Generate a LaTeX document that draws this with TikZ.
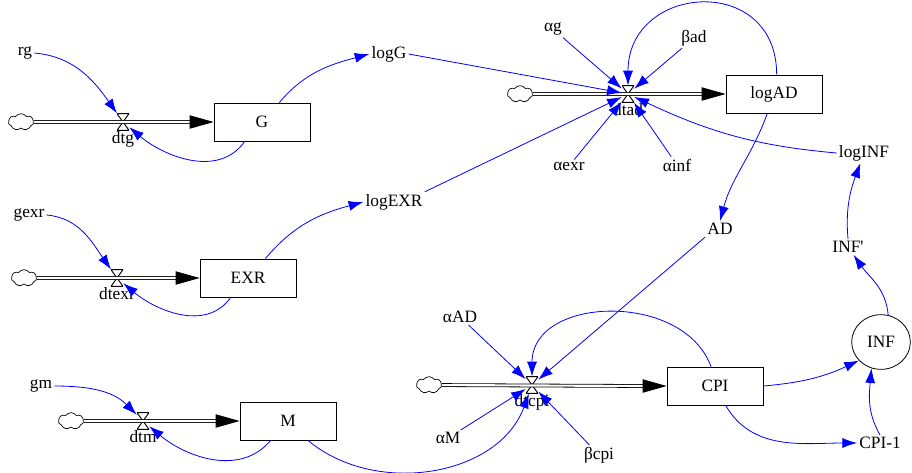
\documentclass[tikz,border=0pt]{standalone}
\usepackage{fontspec}
\setmainfont{Liberation Serif}
\usetikzlibrary{arrows.meta,positioning,shapes.geometric,shapes.symbols}

\tikzset{
  stock/.style={draw, line width=0.6pt, minimum width=72pt, minimum height=28.5pt, inner sep=0pt},
  aux/.style={inner sep=1.5pt},
  conv/.style={draw, ellipse, line width=0.6pt, minimum width=44pt, minimum height=41pt, inner sep=0pt},
  valve/.style={minimum width=9pt, minimum height=12.5pt, inner sep=0pt,
    path picture={\draw[line width=0.7pt] (path picture bounding box.north west) -- (path picture bounding box.south east) -- (path picture bounding box.south west) -- (path picture bounding box.north east) -- cycle;}},
  vlabel/.style={inner sep=0.5pt},
  src/.style={cloud, draw, cloud puffs=7, cloud puff arc=110, aspect=1.6, minimum width=19pt, minimum height=12.5pt, inner sep=0pt, line width=0.5pt},
  pipe/.style={double, double distance=1.6pt, line width=0.6pt},
  pipetip/.style={-{Triangle[length=18pt,width=10pt]}, line width=0.6pt},
  link/.style={draw=blue, line width=0.6pt, -{Latex[length=11pt,width=7.5pt]}, blue},
}

\begin{document}
\begin{tikzpicture}[x=0.75pt,y=-0.75pt,font=\fontsize{13}{15}\selectfont]
\useasboundingbox (0,0) rectangle (912,472);

%Stocks
\node[stock] (G) at (262,122) {G};
\node[stock] (EXR) at (248,278) {EXR};
\node[stock] (M) at (288,421) {M};
\node[stock] (logAD) at (774,94) {logAD};
\node[stock] (CPI) at (715,386) {CPI};
\node[conv] (INF) at (881,342) {INF};

%Sources
\node[src] (cldg) at (21,122) {};
\node[src] (cldexr) at (24,278) {};
\node[src] (cldm) at (71,421) {};
\node[src] (cldad) at (520,94) {};
\node[src] (cldcpi) at (429,385) {};

%Valves
\node[valve] (dtg) at (123,122) {};
\node[valve] (dtexr) at (117,278) {};
\node[valve] (dtm) at (143,421) {};
\node[valve] (dtad) at (628,94) {};
\node[valve] (dtcpi) at (532,385) {};
\node[vlabel, below=0pt of dtg] (dtgtxt) {dtg};
\node[vlabel, below=0pt of dtexr] (dtexrtxt) {dtexr};
\node[vlabel, below=0pt of dtm] (dtmtxt) {dtm};
\node[vlabel, below=0pt of dtad] (dtadtxt) {dtad};
\node[vlabel, below=0pt of dtcpi] (dtcpitxt) {dtcpi};

% Text Node
\node[aux] (rg) at (25,53) {rg};
\node[aux] (gexr) at (29,215) {gexr};
\node[aux] (gm) at (41,386) {gm};
\node[aux] (logG) at (389,54) {logG};
\node[aux] (logEXR) at (394,202) {logEXR};
\node[aux] (ag) at (553,29) {αg};
\node[aux] (bad) at (694,38) {βad};
\node[aux] (aexr) at (569,166) {αexr};
\node[aux] (ainf) at (677,165) {αinf};
\node[aux] (logINF) at (864,153) {logINF};
\node[aux] (AD) at (720,229) {AD};
\node[aux] (INFp) at (848,247) {INF\textquotesingle};
\node[aux] (aAD) at (460,317) {αAD};
\node[aux] (aM) at (448,438) {αM};
\node[aux] (bcpi) at (599,455) {βcpi};
\node[aux] (CPIlag) at (880,443) {CPI-1};

%Flows
\foreach \s/\t in {cldg/G, cldexr/EXR, cldm/M, cldad/logAD, cldcpi/CPI} {
  \draw[pipe] (\s) -- ([xshift=-16pt]\t.west);
  \draw[pipetip] ([xshift=-18pt]\t.west) -- (\t.west);
}

%Links into valves
\draw[link] (rg.east) to[out=-5,in=125] (dtg);
\draw[link] ([xshift=-13pt]G.south) to[out=-125,in=-40] (dtg);
\draw[link] (gexr.east) to[out=-5,in=125] (dtexr);
\draw[link] ([xshift=-13pt]EXR.south) to[out=-125,in=-40] (dtexr);
\draw[link] (gm.east) to[out=0,in=135] (dtm);
\draw[link] ([xshift=-13pt]M.south) to[out=-130,in=-40] (dtm);

%Links to logG, logEXR
\draw[link] ([xshift=13pt]G.north) to[out=50,in=195] (logG.west);
\draw[link] ([xshift=13pt]EXR.north) to[out=50,in=195] (logEXR.west);

%Links into dtad
\draw[link] (logG.east) -- (dtad);
\draw[link] (logEXR.north east) -- (dtad);
\draw[link] (ag) -- (dtad);
\draw[link] (bad) -- (dtad);
\draw[link] (aexr) -- (dtad);
\draw[link] (ainf) -- (dtad);
\draw[link] (logINF.west) to[out=175,in=-25] (dtad);
\draw[link] ([xshift=2pt]logAD.north) to[out=90,in=90,looseness=1.75] (dtad);

%Links into dtcpi
\draw[link] ([xshift=-5pt]logAD.south) to[out=-110,in=75] (AD.north);
\draw[link] (AD.south west) -- (dtcpi);
\draw[link] (aAD) -- (dtcpi);
\draw[link] (aM) -- (dtcpi);
\draw[link] (bcpi) -- (dtcpi);
\draw[link] ([xshift=-3pt]CPI.north) to[out=110,in=90,looseness=1.15] (dtcpi);
\draw[link] ([xshift=15pt]M.south) to[out=-40,in=-110] (dtcpi);

%Links to INF
\draw[link] (CPI.east) to[out=5,in=205] (INF.220);
\draw[link] ([xshift=8pt]CPI.south) to[out=-60,in=180] (CPIlag.west);
\draw[link] (CPIlag.north) to[out=120,in=-95] (INF.250);
\draw[link] (INF.75) to[out=95,in=-55] (INFp);
\draw[link] (INFp.north) to[out=95,in=-110] (logINF);

\end{tikzpicture}
\end{document}
